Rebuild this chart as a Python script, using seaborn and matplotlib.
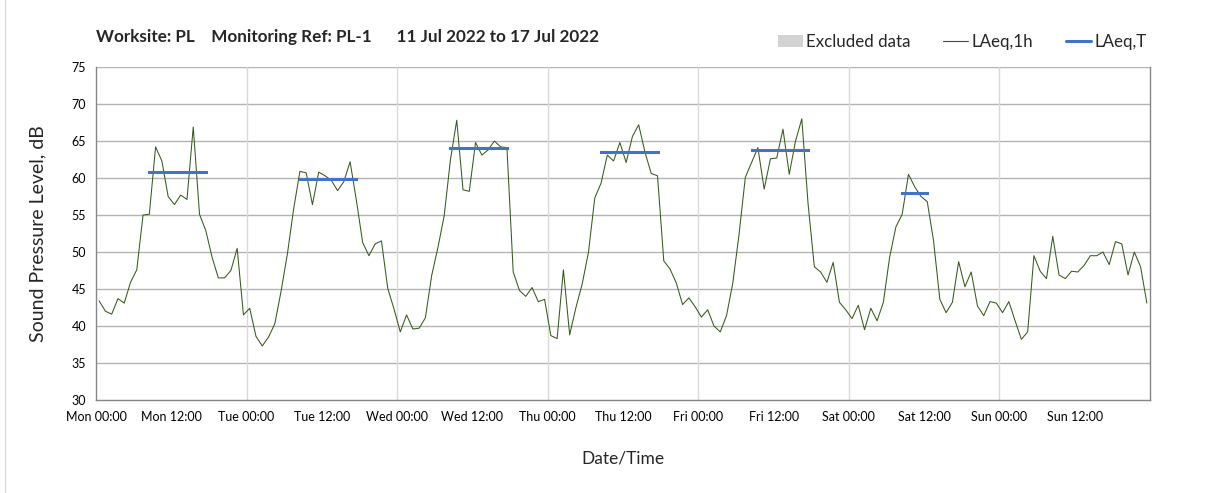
import numpy as np
import pandas as pd
import matplotlib
matplotlib.use("Agg")
import matplotlib.pyplot as plt
import seaborn as sns
from matplotlib.lines import Line2D
from matplotlib.patches import Patch

# hourly LAeq,1h values, Mon 00:00 .. Sun 23:00
laeq_1h = [
    43.4, 42.0, 41.6, 43.7, 43.1, 45.9, 47.6, 55.0, 55.1, 64.2, 62.3, 57.5,
    56.4, 57.7, 57.1, 66.9, 55.1, 52.9, 49.3, 46.5, 46.5, 47.5, 50.5, 41.5,
    42.4, 38.6, 37.3, 38.5, 40.3, 44.7, 49.7, 55.8, 60.9, 60.7, 56.4, 60.8,
    60.3, 59.7, 58.3, 59.5, 62.2, 57.0, 51.3, 49.5, 51.1, 51.5, 45.1, 42.3,
    39.2, 41.5, 39.6, 39.7, 41.1, 46.8, 50.6, 54.9, 62.5, 67.8, 58.4, 58.2,
    64.8, 63.1, 63.8, 65.0, 64.2, 64.1, 47.3, 44.8, 44.0, 45.2, 43.3, 43.6,
    38.7, 38.3, 47.6, 38.8, 42.5, 45.7, 50.0, 57.3, 59.3, 63.1, 62.3, 64.8,
    62.1, 65.6, 67.2, 63.5, 60.6, 60.3, 48.8, 47.7, 45.8, 42.9, 43.8, 42.6,
    41.2, 42.2, 40.0, 39.2, 41.4, 45.8, 52.4, 60.1, 62.1, 64.1, 58.5, 62.6,
    62.7, 66.6, 60.5, 65.0, 68.0, 56.5, 48.0, 47.3, 45.9, 48.6, 43.2, 42.2,
    41.0, 42.8, 39.5, 42.4, 40.7, 43.2, 49.3, 53.4, 55.1, 60.5, 58.8, 57.5,
    56.8, 51.5, 43.6, 41.8, 43.2, 48.7, 45.3, 47.3, 42.7, 41.4, 43.3, 43.1,
    41.8, 43.3, 40.7, 38.2, 39.2, 49.5, 47.4, 46.4, 52.1, 46.9, 46.4, 47.4,
    47.3, 48.2, 49.5, 49.5, 50.0, 48.3, 51.4, 51.1, 46.9, 50.0, 48.0, 43.1,
]

# LAeq,T per day (hour of first and last hourly value)
laeq_t_days = ["Mon", "Tue", "Wed", "Thu", "Fri", "Sat"]
laeq_t_values = [60.85, 59.8, 64.05, 63.5, 63.8, 58.0]
laeq_t_start = [8, 32, 56, 80, 104, 128]
laeq_t_end = [17, 41, 65, 89, 113, 132]

day_names = ["Mon", "Tue", "Wed", "Thu", "Fri", "Sat", "Sun"]
tick_hours = list(range(0, 168, 12))
tick_labels = [f"{day_names[h // 24]} {h % 24:02d}:00" for h in tick_hours]

hourly = pd.DataFrame({"hour": np.arange(len(laeq_1h)) + 0.5, "level": laeq_1h})
rows = []
for d, v, s, e in zip(laeq_t_days, laeq_t_values, laeq_t_start, laeq_t_end):
    rows.append({"day": d, "hour": s + 0.5, "level": v})
    rows.append({"day": d, "hour": e + 0.5, "level": v})
period = pd.DataFrame(rows)

sns.set_style("white")
plt.rcParams["font.family"] = ["Lato", "DejaVu Sans"]

fig = plt.figure(figsize=(12.08, 4.93), dpi=100)
ax = fig.add_axes([96 / 1208, 1 - 400 / 493, (1150 - 96) / 1208, (400 - 67) / 493])

green = "#375a1c"
blue = "#4472c4"
sns.lineplot(data=hourly, x="hour", y="level", color=green, linewidth=0.75, ax=ax)
sns.lineplot(data=period, x="hour", y="level", units="day", estimator=None,
             color=blue, linewidth=2.2, solid_capstyle="projecting", ax=ax)

ax.set_xlim(0, 168)
ax.set_ylim(30, 75)
ax.set_yticks(range(30, 80, 5))
ax.set_xticks(tick_hours)
ax.set_xticklabels(tick_labels)

# grid: horizontal every 5 dB, vertical only at midnight
for y in range(35, 80, 5):
    ax.axhline(y, color="#b4b4b4", linewidth=1.0, zorder=0)
for h in range(24, 168, 24):
    ax.axvline(h, color="#d9d9d9", linewidth=1.0, zorder=0)

for side in ["left", "bottom", "right"]:
    ax.spines[side].set_color("#868686")
    ax.spines[side].set_linewidth(1.0)
ax.spines["top"].set_visible(False)

ax.tick_params(axis="both", which="major", direction="out", length=4, width=1,
               color="#868686", labelsize=9, labelcolor="#000000", pad=3)
ax.tick_params(axis="x", pad=4)

ax.set_xlabel("Date/Time", fontsize=12.5, labelpad=20)
ax.set_ylabel("Sound Pressure Level, dB", fontsize=14, labelpad=18)

fig.text(96 / 1208, 1 - 37 / 493,
         "Worksite: PL    Monitoring Ref: PL-1      11 Jul 2022 to 17 Jul 2022",
         fontsize=12.3, fontweight="bold", va="center", ha="left")

handles = [
    Patch(facecolor="#d3d3d3", edgecolor="none"),
    Line2D([], [], color=green, linewidth=0.8),
    Line2D([], [], color=blue, linewidth=2.2),
]
fig.legend(handles, ["Excluded data", "LAeq,1h", "LAeq,T"], loc="center right",
           bbox_to_anchor=(1162 / 1208, 1 - 42 / 493), ncol=3, frameon=False,
           fontsize=12.2, handlelength=1.5, handletextpad=0.2, columnspacing=1.9)

fig.add_artist(Line2D([5 / 1208, 5 / 1208], [0, 1], color="#d9d9d9", linewidth=1,
                      transform=fig.transFigure))

fig.savefig("out.png", dpi=100, facecolor="white")
